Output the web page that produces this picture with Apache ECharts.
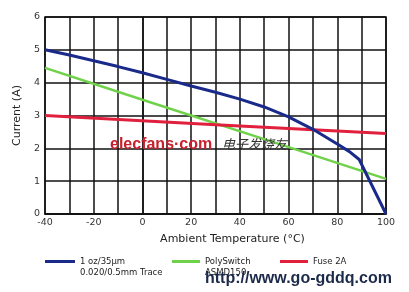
<!DOCTYPE html>
<html><head><meta charset="utf-8">
<script src="https://cdn.jsdelivr.net/npm/echarts@6/dist/echarts.min.js"></script>
<style>html,body{margin:0;padding:0;background:#fff}#c{width:409px;height:292px}</style>
</head><body><div id="c"></div>
<script>
// Data
const traceTemps = [-40,-30,-20,-10,0,10,20,30,40,50,60,70,80,85,89,100];
const traceCurrent = [5.0,4.84,4.67,4.49,4.3,4.1,3.9,3.71,3.5,3.26,2.96,2.58,2.13,1.9,1.66,0];
const polyTemps = [-40,0,50,100];
const polyCurrent = [4.45,3.48,2.28,1.07];
const fuseTemps = [-40,30,100];
const fuseCurrent = [3.0,2.72,2.45];
const xTicks = [-40,-20,0,20,40,60,80,100];
const yTicks = [0,1,2,3,4,5,6];
const names = ['1 oz/35μm','PolySwitch','Fuse 2A'];
const subNames = ['0.020/0.5mm Trace','ASMD150'];

const pairs = (xs, ys) => xs.map((x,i)=>[x, ys[i]]);
const font = 'DejaVu Sans';
const legTxt = {fontFamily:font,fontSize:8.5,color:'#222'};
const chart = echarts.init(document.getElementById('c'), null, {renderer:'canvas'});
chart.setOption({
  animation:false,
  grid:{left:45,right:23,top:17,bottom:78,show:true,borderColor:'#111',borderWidth:1.5,backgroundColor:'transparent'},
  xAxis:{type:'value',min:-40,max:100,interval:10,
    axisLine:{lineStyle:{color:'#111',width:1.5}},axisTick:{show:false},
    splitLine:{lineStyle:{color:'#111',width:1.5}},
    axisLabel:{margin:4,color:'#333',fontFamily:font,fontSize:9.5,
      formatter:v=>xTicks.includes(v)?String(v):''},
    name:'Ambient Temperature (°C)',nameLocation:'middle',nameGap:20,
    nameTextStyle:{color:'#222',fontFamily:font,fontSize:11,padding:[0,0,0,34]}},
  yAxis:{type:'value',min:0,max:6,interval:1,
    axisLine:{show:true,lineStyle:{color:'#111',width:1.5}},axisTick:{show:false},
    splitLine:{lineStyle:{color:'#111',width:1.5}},
    axisLabel:{margin:5,color:'#333',fontFamily:font,fontSize:9.5,
      formatter:v=>yTicks.includes(v)?String(v):''},
    name:'Current (A)',nameLocation:'middle',nameGap:21,nameRotate:90,
    nameTextStyle:{color:'#222',fontFamily:font,fontSize:11}},
  legend:[
    {data:[names[0]],left:45,top:257,padding:0,itemWidth:30,itemHeight:3,icon:'rect',textStyle:legTxt},
    {data:[names[1]],left:172,top:257,padding:0,itemWidth:28,itemHeight:3,icon:'rect',textStyle:legTxt},
    {data:[names[2]],left:280,top:257,padding:0,itemWidth:28,itemHeight:3,icon:'rect',textStyle:legTxt}
  ],
  graphic:[
    {type:'text',left:80,top:268,style:{text:subNames[0],font:'8.5px "DejaVu Sans"',fill:'#222'}},
    {type:'text',left:205,top:268,style:{text:subNames[1],font:'8.5px "DejaVu Sans"',fill:'#222'}},
    {type:'text',left:110,top:137,z:20,style:{text:'elecfans·com',font:'bold 16px "Liberation Sans"',fill:'#c8202c'}},
    {type:'text',left:222,top:138,z:20,style:{text:'电子发烧友',font:'italic 13px "Noto Sans CJK SC"',fill:'#333'}},
    {type:'text',left:205,top:271,z:20,style:{text:'http://www.go-gddq.com',font:'bold 16px "Liberation Sans"',fill:'#1c2a4a'}}
  ],
  series:[
    {name:names[0],type:'line',data:pairs(traceTemps,traceCurrent),showSymbol:false,smooth:false,
      lineStyle:{color:'#1a2a8a',width:3},itemStyle:{color:'#1a2a8a'},z:4},
    {name:names[1],type:'line',data:pairs(polyTemps,polyCurrent),showSymbol:false,
      lineStyle:{color:'#6fd24a',width:2.5},itemStyle:{color:'#6fd24a'},z:3},
    {name:names[2],type:'line',data:pairs(fuseTemps,fuseCurrent),showSymbol:false,
      lineStyle:{color:'#e0203c',width:3},itemStyle:{color:'#e0203c'},z:3}
  ]
});
</script></body></html>
